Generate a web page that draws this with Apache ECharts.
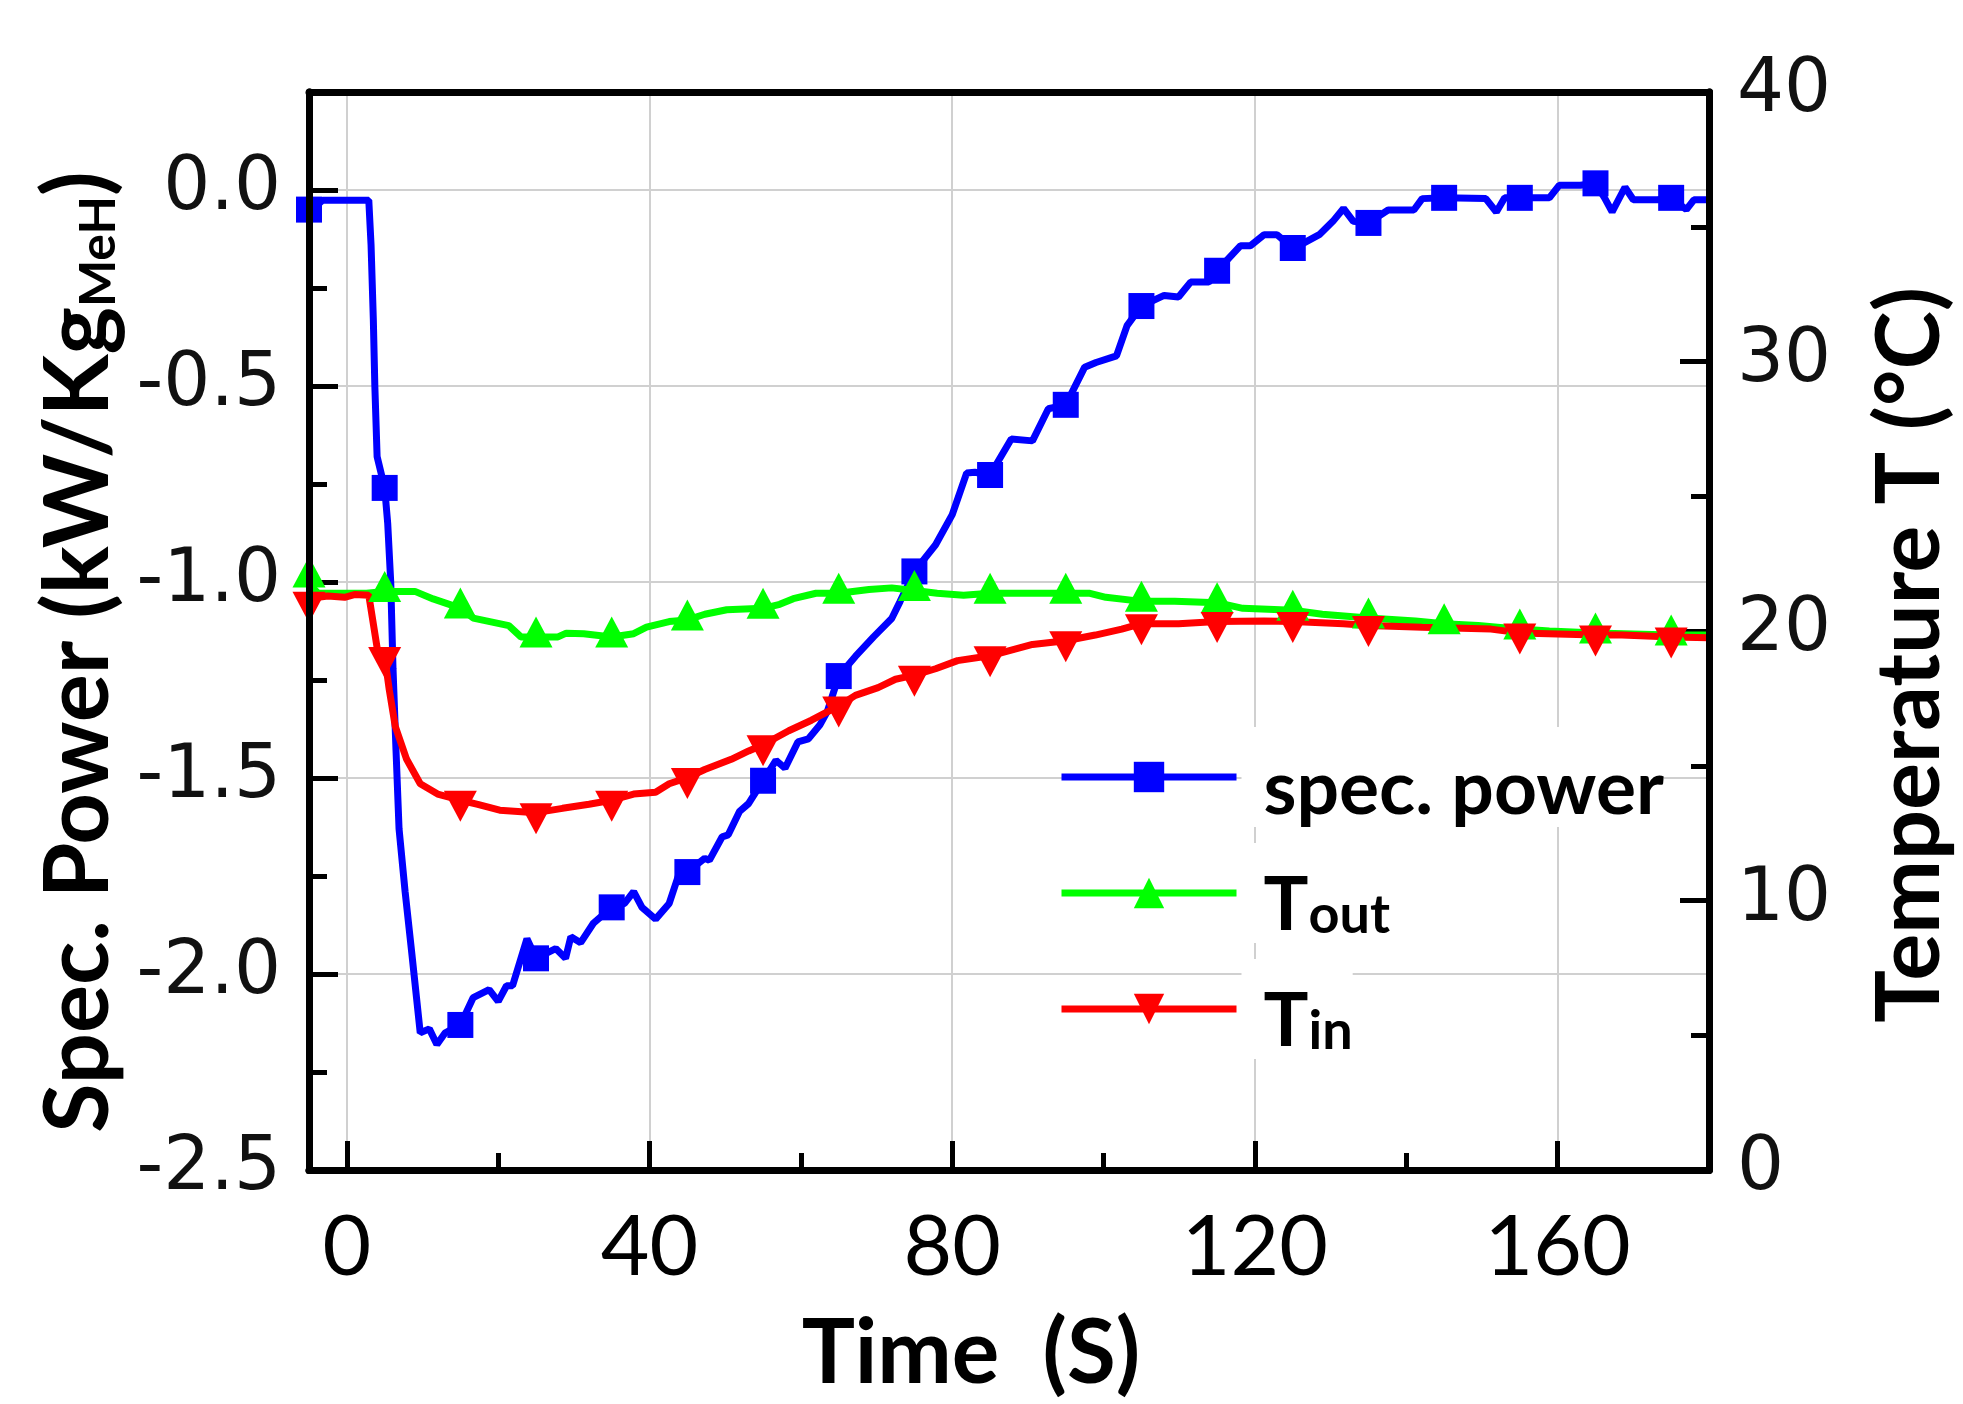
<!DOCTYPE html>
<html><head><meta charset="utf-8">
<script src="https://cdn.jsdelivr.net/npm/echarts@6/dist/echarts.min.js"></script>
<style>html,body{margin:0;padding:0;background:#fff}#c{width:1963px;height:1404px}</style>
</head><body><div id="c"></div>
<script>
// ---- data (time in s) ----
const markerTimes = [-5,5,15,25,35,45,55,65,75,85,95,105,115,125,135,145,155,165,175];

const specPower = [[-5,-0.05],[-4,-0.04],[-3.2,-0.026],[2.9,-0.026],[3.2,-0.14],[3.5,-0.33],[3.7,-0.50],[4.0,-0.68],[5,-0.76],[5.4,-0.85],[5.8,-1.0],[6.1,-1.22],[6.5,-1.43],[6.9,-1.63],[7.7,-1.79],[8.6,-1.95],[9.7,-2.15],[10.9,-2.14],[11.9,-2.18],[13,-2.15],[15,-2.13],[16.7,-2.06],[18.8,-2.04],[20,-2.07],[21.1,-2.03],[21.9,-2.03],[23.8,-1.91],[25,-1.96],[27.6,-1.935],[28.9,-1.96],[29.6,-1.905],[30.9,-1.92],[32.6,-1.87],[35,-1.83],[36.7,-1.82],[37.9,-1.79],[39,-1.83],[40.8,-1.86],[42.6,-1.82],[43.8,-1.75],[45,-1.74],[47.3,-1.705],[47.9,-1.71],[49.6,-1.65],[50.4,-1.645],[51.9,-1.585],[53.1,-1.565],[55,-1.507],[56.7,-1.455],[57.9,-1.475],[59.6,-1.408],[61,-1.40],[62.5,-1.365],[63.5,-1.33],[65,-1.24],[67.2,-1.19],[69.6,-1.14],[72,-1.093],[73.1,-1.05],[75,-0.973],[77.8,-0.905],[80,-0.828],[81.9,-0.722],[83,-0.72],[85,-0.727],[87.8,-0.635],[90.6,-0.64],[92.7,-0.558],[95,-0.548],[97.5,-0.452],[99,-0.44],[101.7,-0.423],[103.1,-0.346],[105,-0.296],[108,-0.269],[109.9,-0.273],[111.5,-0.235],[113.9,-0.235],[115,-0.206],[118.1,-0.142],[119.4,-0.142],[121.2,-0.114],[122.9,-0.114],[125,-0.148],[126,-0.14],[128.5,-0.114],[130.3,-0.080],[131.7,-0.047],[133,-0.080],[135,-0.084],[137.6,-0.051],[141,-0.051],[142.1,-0.022],[145,-0.02],[150.5,-0.022],[151.9,-0.056],[153,-0.02],[155,-0.02],[158.9,-0.02],[160.2,0.012],[163,0.012],[165,0.017],[166.2,-0.02],[167.2,-0.056],[168.9,0.007],[170,-0.025],[173.2,-0.025],[175,-0.02],[177,-0.05],[178,-0.025],[180,-0.025]];

const tOut = [[-5,22.0],[-4.5,21.6],[-3.8,21.4],[2.6,21.4],[5,21.47],[9,21.47],[11.4,21.19],[15,20.85],[16.7,20.48],[21.4,20.2],[23,19.78],[25,19.78],[27.9,19.78],[29,19.92],[31.3,19.9],[35,19.78],[37.9,19.9],[39.6,20.14],[42.6,20.35],[45,20.41],[47.3,20.62],[50.2,20.79],[55,20.84],[57.2,20.99],[59,21.2],[62,21.4],[65,21.4],[69,21.54],[72,21.6],[75,21.5],[78,21.4],[81.5,21.33],[85,21.4],[90.6,21.4],[95,21.4],[98.2,21.4],[100.3,21.25],[105,21.1],[109.4,21.1],[115,21.05],[118.4,20.84],[125,20.77],[128.9,20.62],[135,20.48],[141.2,20.37],[145,20.27],[149.5,20.2],[155,20.07],[158.9,20.0],[165,19.93],[175,19.85],[180,19.85]];

const tIn = [[-5,21.1],[-4.5,21.2],[-3.8,21.25],[-2.5,21.3],[-0.3,21.25],[1,21.35],[2.9,21.33],[4.1,19.2],[5,19.05],[5.6,17.83],[6.4,16.46],[7.9,15.24],[9.7,14.33],[12,13.95],[15,13.72],[17.3,13.57],[20.2,13.35],[25,13.26],[28.5,13.42],[32,13.57],[35,13.72],[37.9,13.95],[40.8,14.02],[42.6,14.33],[45,14.56],[47.3,14.86],[50.8,15.24],[53.1,15.55],[55,15.78],[58.4,16.3],[61.4,16.69],[65,17.22],[67.2,17.61],[70.2,17.9],[72.5,18.21],[75,18.36],[77.8,18.6],[80.7,18.9],[85,19.08],[90.6,19.5],[95,19.64],[98.9,19.85],[102.4,20.07],[105,20.27],[109.9,20.27],[115,20.35],[121.2,20.37],[125,20.35],[131.7,20.27],[135,20.2],[142.1,20.14],[151.2,20.07],[155,19.93],[165,19.85],[168.5,19.85],[175,19.78],[180,19.75]];

const timeTicks = [0,40,80,120,160];
const timeMinorTicks = [20,60,100,140];
const powerTicks = [-2.5,-2,-1.5,-1,-0.5,0];
const powerMinorTicks = [-2.25,-1.75,-1.25,-0.75,-0.25];
const tempTicks = [0,10,20,30,40];
const tempMinorTicks = [5,15,25,35];

// ---- chart ----
function withMarkers(pairs){
  return pairs.map(p => markerTimes.includes(p[0]) ? {value:p} : {value:p, symbol:'none'});
}
const BLACK = '#000';
const axisLineStyle = {show:true, onZero:false, lineStyle:{color:BLACK, width:7}};
const tickStyle = {color:BLACK, width:5};
const grid = {left:309, right:250, top:92, bottom:223};
const titleFont = {fontFamily:'Lato', fontWeight:'bold', color:BLACK};
const LW = 7;

const chart = echarts.init(document.getElementById('c'), null, {renderer:'canvas'});
chart.setOption({
  animation:false,
  backgroundColor:'#fff',
  grid: grid,
  legend:{
    orient:'vertical', left:1058, top:727, padding:0,
    itemWidth:175, itemHeight:38, itemGap:16,
    lineStyle:{width:LW},
    data:['spec. power','T_out','T_in'],
    formatter: function(name){
      if (name === 'T_out') return '{m|T}{s|out}';
      if (name === 'T_in') return '{m|T}{s|in}';
      return '{m|' + name + '}';
    },
    textStyle:{
      backgroundColor:'#fff', padding:[0,0,0,22],
      rich:{
        m:Object.assign({fontSize:75, lineHeight:100, verticalAlign:'bottom'}, titleFont),
        s:Object.assign({fontSize:54, lineHeight:60, verticalAlign:'bottom'}, titleFont)
      }
    }
  },
  xAxis:[
    {type:'value', min:-5, max:180, position:'bottom',
     axisLine:axisLineStyle,
     axisTick:{show:true, inside:true, length:29, lineStyle:tickStyle, customValues:timeTicks},
     axisLabel:{customValues:timeTicks, fontFamily:'Lato', fontSize:84, color:BLACK, margin:36},
     splitLine:{show:true, lineStyle:{color:'#d0d0d0', width:2}},
     name:'Time  (S)', nameLocation:'middle', nameGap:140,
     nameTextStyle:Object.assign({fontSize:89, padding:[0,76,0,0]}, titleFont)},
    {type:'value', min:-5, max:180, position:'bottom', z:5,
     axisLine:axisLineStyle,
     axisTick:{show:true, inside:true, length:17, lineStyle:tickStyle, customValues:timeMinorTicks},
     axisLabel:{show:false}, splitLine:{show:false}},
    {type:'value', min:-5, max:180, position:'top', z:5,
     axisLine:axisLineStyle, axisTick:{show:false}, axisLabel:{show:false}, splitLine:{show:false}}
  ],
  yAxis:[
    {type:'value', position:'left', min:-2.5, max:0.25, interval:0.5,
     axisLine:axisLineStyle,
     axisTick:{show:true, inside:true, length:29, lineStyle:tickStyle, customValues:powerTicks},
     axisLabel:{customValues:powerTicks, formatter:v => Number(v).toFixed(1),
                fontFamily:'DejaVu Sans', fontSize:74, color:'#111', margin:28, padding:[0,0,10,0]},
     splitLine:{show:true, lineStyle:{color:'#d0d0d0', width:2}},
     name:'{a|Spec. Power (kW/Kg}{s|MeH}{a|)}', nameLocation:'middle', nameGap:185,
     nameTextStyle:{fontFamily:'Lato', fontWeight:'bold', fontSize:90, padding:[0,42,0,0],
       rich:{a:Object.assign({fontSize:90, lineHeight:110, verticalAlign:'bottom'}, titleFont),
             s:Object.assign({fontSize:50, lineHeight:64, verticalAlign:'bottom'}, titleFont)}}},
    {type:'value', position:'left', min:-2.5, max:0.25, z:5,
     axisLine:axisLineStyle,
     axisTick:{show:true, inside:true, length:18, lineStyle:tickStyle, customValues:powerMinorTicks},
     axisLabel:{show:false}, splitLine:{show:false}},
    {type:'value', position:'right', min:0, max:40, interval:10,
     axisLine:axisLineStyle,
     axisTick:{show:true, inside:true, length:29, lineStyle:tickStyle, customValues:tempTicks},
     axisLabel:{customValues:tempTicks, fontFamily:'DejaVu Sans', fontSize:74, color:'#111', margin:28, padding:[0,0,12,0]},
     splitLine:{show:false},
     name:'Temperature T (°C)', nameLocation:'middle', nameGap:158,
     nameTextStyle:Object.assign({fontSize:88, padding:[0,48,0,0]}, titleFont)},
    {type:'value', position:'right', min:0, max:40, z:5,
     axisLine:axisLineStyle,
     axisTick:{show:true, inside:true, length:18, lineStyle:tickStyle, customValues:tempMinorTicks},
     axisLabel:{show:false}, splitLine:{show:false}}
  ],
  series:[
    {name:'spec. power', type:'line', xAxisIndex:0, yAxisIndex:0,
     data:withMarkers(specPower), symbol:'rect', symbolSize:26, showAllSymbol:true,
     color:'#0000ff', lineStyle:{color:'#0000ff', width:LW}, itemStyle:{color:'#0000ff'}},
    {name:'T_out', type:'line', xAxisIndex:0, yAxisIndex:2,
     data:withMarkers(tOut), symbol:'triangle', symbolSize:[33,31], symbolOffset:[0,-5], showAllSymbol:true,
     color:'#00ff00', lineStyle:{color:'#00ff00', width:LW}, itemStyle:{color:'#00ff00'}},
    {name:'T_in', type:'line', xAxisIndex:0, yAxisIndex:2,
     data:withMarkers(tIn), symbol:'triangle', symbolRotate:180, symbolSize:[33,31], symbolOffset:[0,6], showAllSymbol:true,
     color:'#ff0000', lineStyle:{color:'#ff0000', width:LW}, itemStyle:{color:'#ff0000'}}
  ]
});
</script>
</body></html>
